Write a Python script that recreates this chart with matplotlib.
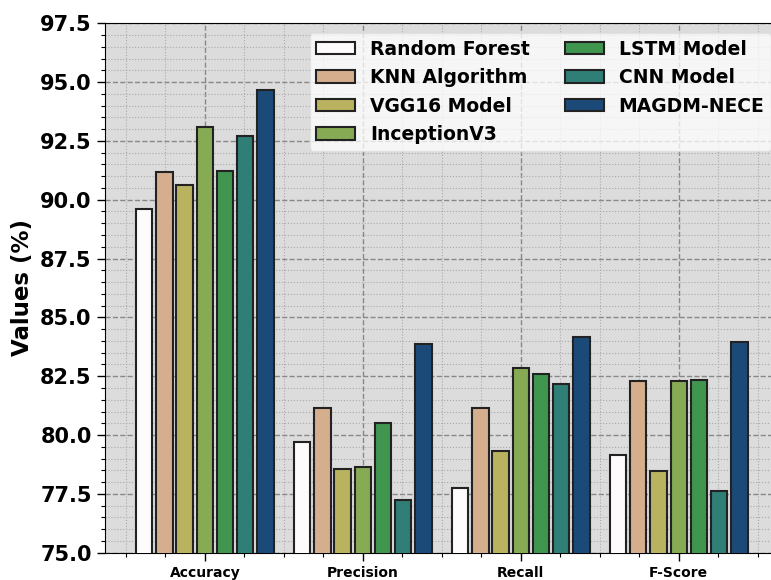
import numpy as np
import matplotlib.pyplot as plt
from matplotlib.ticker import MultipleLocator

metrics = ['Accuracy', 'Precision', 'Recall', 'F-Score']
models = ['Random Forest', 'KNN Algorithm', 'VGG16 Model', 'InceptionV3',
          'LSTM Model', 'CNN Model', 'MAGDM-NECE']

random_forest = [89.62, 79.72, 77.73, 79.15]
knn = [91.17, 81.13, 81.17, 82.29]
vgg16 = [90.64, 78.55, 79.34, 78.48]
inception = [93.09, 78.66, 82.86, 82.29]
lstm = [91.20, 80.52, 82.60, 82.35]
cnn = [92.72, 77.25, 82.18, 77.61]
magdm = [94.65, 83.89, 84.15, 83.95]

colors = ['#fdfbfc', '#d5ae8d', '#b9b35f', '#87aa55', '#40964e', '#2f7f77', '#1b4a78']

series = [random_forest, knn, vgg16, inception, lstm, cnn, magdm]

fig = plt.figure(figsize=(7.71, 5.80), dpi=100)
ax = fig.add_axes([0.136, 0.047, 0.874, 0.913])
ax.set_facecolor('#dcdcdc')

x = np.arange(len(metrics))
step = 0.128
for i, (vals, name, c) in enumerate(zip(series, models, colors)):
    ax.bar(x + (i - 3) * step, vals, width=0.104, color=c, edgecolor='#222222',
           linewidth=1.5, label=name, zorder=3)

ax.set_ylim(75, 97.5)
ax.set_xlim(-0.633, 3.633)
ax.set_xticks(x)
ax.set_xticklabels(metrics, fontsize=10, fontweight='bold')
ax.yaxis.set_minor_locator(MultipleLocator(0.5))
ax.xaxis.set_minor_locator(MultipleLocator(0.25))
yt = np.arange(75, 97.6, 2.5)
ax.set_yticks(yt)
ax.set_yticklabels(['%.1f' % v for v in yt], fontsize=15, fontweight='bold')
ax.tick_params(which='major', length=6, width=1)
ax.tick_params(which='minor', length=3, width=0.8)

ax.grid(which='major', linestyle='--', color='#888888', linewidth=1.0, zorder=0)
ax.grid(which='minor', linestyle=':', color='#aaaaaa', linewidth=0.8, zorder=0)
ax.set_axisbelow(True)

ax.set_ylabel('Values (%)', fontsize=16.5, fontweight='bold', labelpad=4)

leg = ax.legend(ncol=2, loc='upper left', bbox_to_anchor=(0.304, 0.981),
                borderaxespad=0, borderpad=0.35,
                prop={'weight': 'bold', 'size': 13.5}, framealpha=0.75,
                facecolor='white', edgecolor='#dddddd', fancybox=True,
                handlelength=2.08, handleheight=0.64, columnspacing=1.85,
                labelspacing=0.5)
leg.set_zorder(5)

fig.savefig('out.png', dpi=100)
